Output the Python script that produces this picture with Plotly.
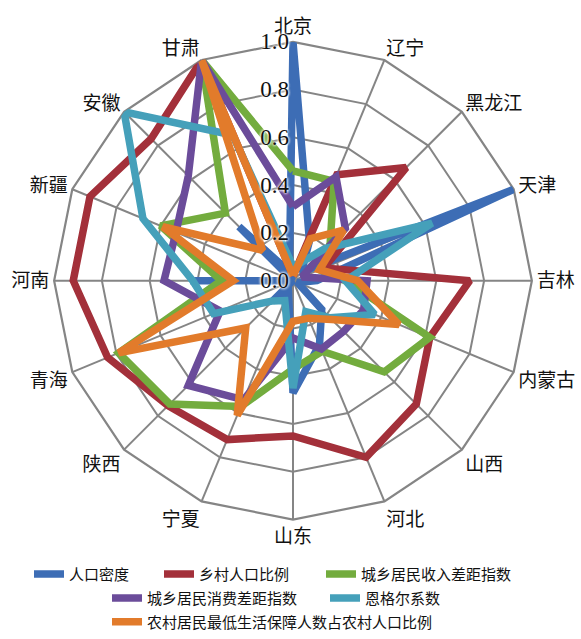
import plotly.graph_objects as go

# Provinces, clockwise from the top
categories = ["北京", "辽宁", "黑龙江", "天津", "吉林", "内蒙古", "山西", "河北",
              "山东", "宁夏", "陕西", "青海", "河南", "新疆", "安徽", "甘肃"]

# Normalised indicators (0–1)
pop_density = [1.00, 0.18, 0.05, 1.00, 0.10, 0.02, 0.17, 0.29,
               0.47, 0.05, 0.12, 0.00, 0.43, 0.00, 0.32, 0.04]
rural_ratio = [0.02, 0.48, 0.67, 0.14, 0.74, 0.62, 0.73, 0.80,
               0.65, 0.72, 0.74, 0.84, 0.92, 0.92, 0.84, 1.00]
income_gap = [0.46, 0.45, 0.22, 0.12, 0.22, 0.62, 0.54, 0.32,
              0.37, 0.57, 0.73, 0.79, 0.30, 0.60, 0.40, 1.00]
consumption_gap = [0.31, 0.47, 0.31, 0.04, 0.31, 0.32, 0.30, 0.31,
                   0.24, 0.54, 0.62, 0.33, 0.54, 0.53, 0.62, 1.00]
engel = [0.06, 0.08, 0.19, 0.63, 0.22, 0.37, 0.22, 0.14,
         0.45, 0.09, 0.12, 0.36, 0.42, 0.68, 1.00, 0.66]
dibao_ratio = [0.02, 0.19, 0.30, 0.12, 0.27, 0.48, 0.23, 0.17,
               0.17, 0.61, 0.28, 0.79, 0.25, 0.59, 0.18, 1.00]

radial_ticks = [0.0, 0.2, 0.4, 0.6, 0.8, 1.0]
radial_ticktext = ["0.0", "0.2", "0.4", "0.6", "0.8", "1.0"]

W, H = 581, 639

# name, values, colour, legend id, legend left edge (px), legend row centre (px)
series = [
    ("人口密度", pop_density, "#3D6DB5", "legend", 29, 577),
    ("乡村人口比例", rural_ratio, "#A3303A", "legend2", 159, 577),
    ("城乡居民收入差距指数", income_gap, "#73AC3E", "legend3", 321, 577),
    ("城乡居民消费差距指数", consumption_gap, "#6B4C9A", "legend4", 107, 601),
    ("恩格尔系数", engel, "#45A0BA", "legend5", 325, 601),
    ("农村居民最低生活保障人数占农村人口比例", dibao_ratio, "#E27B2B", "legend6", 107, 625),
]

CJK = "Noto Sans CJK SC"
SERIF = "Liberation Serif"
GRID = "#858585"

fig = go.Figure()
legends = {}
for name, vals, color, leg, lx, ly in series:
    fig.add_trace(go.Scatterpolar(
        r=vals + vals[:1],
        theta=categories + categories[:1],
        mode="lines",
        name=name,
        legend=leg,
        showlegend=True,
        line=dict(color=color, width=7.5),
    ))
    legends[leg] = dict(
        orientation="h", x=lx / W, xanchor="left",
        y=1 - ly / H, yanchor="middle",
        font=dict(family=CJK, size=15, color="#111111"),
        bgcolor="rgba(0,0,0,0)", itemwidth=30,
    )

cx, cy, rad = 293, 282, 240

fig.update_layout(
    width=W, height=H,
    margin=dict(l=0, r=0, t=0, b=0),
    paper_bgcolor="white",
    showlegend=True,
    polar=dict(
        domain=dict(x=[(cx - rad) / W, (cx + rad) / W],
                    y=[1 - (cy + rad) / H, 1 - (cy - rad) / H]),
        gridshape="linear",
        bgcolor="white",
        radialaxis=dict(
            range=[0, 1], tickvals=radial_ticks, ticktext=radial_ticktext,
            angle=90, tickangle=90, side="counterclockwise",
            showline=False, ticks="",
            gridcolor=GRID, gridwidth=2.2,
            tickfont=dict(family=SERIF, size=23, color="#111111",
                          shadow="0px 0px 3px white, 0px 0px 3px white, 0px 0px 3px white"),
            layer="above traces",
        ),
        angularaxis=dict(
            direction="clockwise", rotation=90,
            gridcolor=GRID, gridwidth=2.2,
            showline=True, linecolor=GRID, linewidth=2.2,
            ticks="",
            tickfont=dict(family=CJK, size=19, color="#111111"),
            layer="below traces",
        ),
    ),
    **legends,
)

fig.write_html("out.html")
